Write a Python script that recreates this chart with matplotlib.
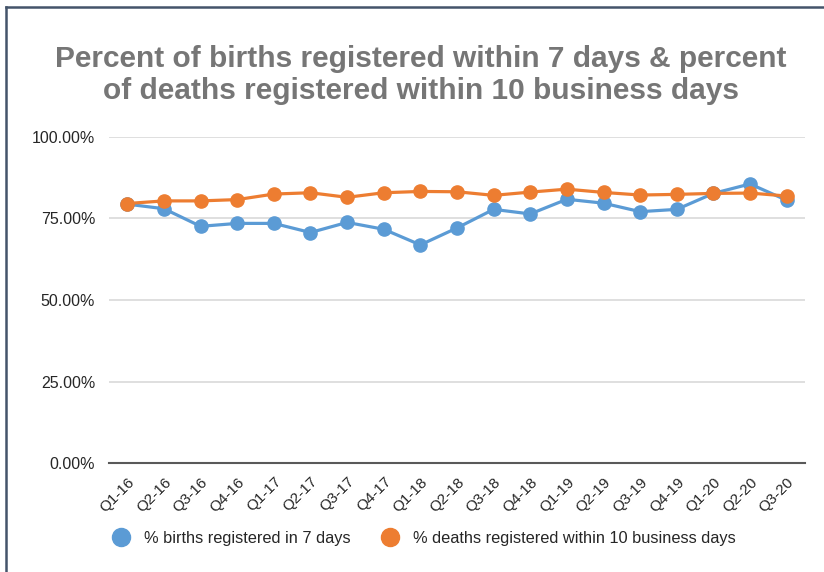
import matplotlib
matplotlib.use("Agg")
import matplotlib.pyplot as plt
import matplotlib.transforms as mtransforms
from matplotlib.lines import Line2D
from matplotlib.ticker import FuncFormatter

quarters = ["Q1-16", "Q2-16", "Q3-16", "Q4-16", "Q1-17", "Q2-17", "Q3-17", "Q4-17",
            "Q1-18", "Q2-18", "Q3-18", "Q4-18", "Q1-19", "Q2-19", "Q3-19", "Q4-19",
            "Q1-20", "Q2-20", "Q3-20"]
births_7d = [79.4, 78.0, 72.6, 73.5, 73.5, 70.7, 73.8, 71.7, 66.9, 72.1,
             77.8, 76.4, 80.9, 79.7, 77.1, 77.8, 82.7, 85.6, 80.6]
deaths_10d = [79.6, 80.4, 80.4, 80.8, 82.5, 82.9, 81.5, 82.9, 83.3, 83.2,
              82.1, 83.1, 84.0, 83.0, 82.2, 82.4, 82.7, 82.8, 81.9]
title = "Percent of births registered within 7 days & percent\nof deaths registered within 10 business days"
label_births = "% births registered in 7 days"
label_deaths = "% deaths registered within 10 business days"

blue = "#5B9BD5"
orange = "#ED7D31"

fig = plt.figure(figsize=(8.24, 5.72), dpi=100)
ax = fig.add_axes([109 / 824, 1 - 463 / 572, 696 / 824, 326 / 572])

x = list(range(len(quarters)))
ax.plot(x, births_7d, color=blue, lw=2.3, marker="o", ms=9.5, zorder=3)
ax.plot(x, deaths_10d, color=orange, lw=2.3, marker="o", ms=9.5, zorder=4)

ax.set_xlim(-0.5, len(quarters) - 0.5)
ax.set_ylim(0, 100)
ax.set_yticks([0, 25, 50, 75, 100])
ax.yaxis.set_major_formatter(FuncFormatter(lambda v, p: f"{v:.2f}%"))
ax.grid(axis="y", color="#d9d9d9", lw=1.2)
ax.set_axisbelow(True)
for s in ["top", "right", "left"]:
    ax.spines[s].set_visible(False)
ax.spines["bottom"].set_color("#595959")
ax.spines["bottom"].set_linewidth(1.5)
ax.spines["bottom"].set_zorder(2)
ax.tick_params(axis="both", length=0, colors="#262626")
ax.tick_params(axis="y", pad=10, labelsize=11.5)
for lbl in ax.get_yticklabels():
    lbl.set_fontfamily("Liberation Sans")

ax.set_xticks(x)
ax.set_xticklabels(quarters, rotation=45, ha="right", va="center",
                   rotation_mode="anchor", fontsize=11, family="Liberation Sans")
ax.tick_params(axis="x", pad=12)
# nudge rotated labels a little to the right, like the original
shift = mtransforms.ScaledTranslation(5 / 100, 0, fig.dpi_scale_trans)
for lbl in ax.get_xticklabels():
    lbl.set_transform(lbl.get_transform() + shift)

fig.text(421 / 824, 1 - 45 / 572, title, ha="center", va="top", fontsize=21.5,
         fontweight="bold", color="#767676", family="Liberation Sans", linespacing=1.2)

handles = [Line2D([], [], ls="none", marker="o", ms=13, color=blue),
           Line2D([], [], ls="none", marker="o", ms=13, color=orange)]
fig.legend(handles, [label_births, label_deaths], loc="center", ncol=2,
           bbox_to_anchor=(420 / 824, 1 - 538 / 572), frameon=False,
           prop={"family": "Liberation Sans", "size": 11.8},
           handletextpad=0.4, columnspacing=1.4, labelcolor="#262626")

# outer frame of the chart (only left and top edges visible)
fig.add_artist(Line2D([6 / 824, 6 / 824], [0, 1 - 7 / 572], transform=fig.transFigure,
                      color="#44546A", lw=1.8))
fig.add_artist(Line2D([6 / 824, 1], [1 - 7 / 572, 1 - 7 / 572], transform=fig.transFigure,
                      color="#44546A", lw=1.8))

fig.savefig("out.png", dpi=100)
